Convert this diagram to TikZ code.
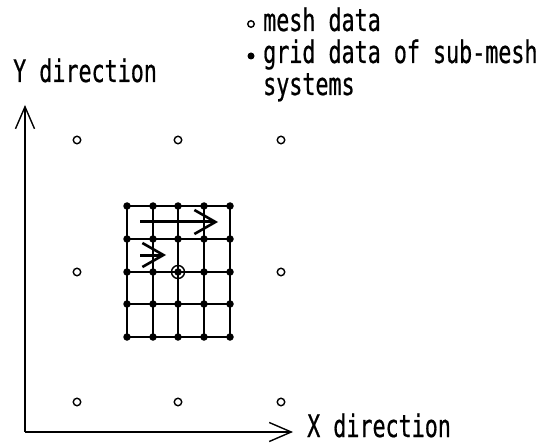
\documentclass[tikz,border=0pt]{standalone}
\usepackage{fontspec}
\setmainfont[FakeStretch=0.70,FakeBold=0.6]{DejaVu Sans Mono}
\usetikzlibrary{arrows.meta,positioning}

\begin{document}
\begin{tikzpicture}[x=1pt,y=-1pt,
  axis/.style={line width=1.6pt,-{Straight Barb[length=22pt,width=19pt,line width=1.4pt]}},
  flow/.style={line width=3pt,-{Straight Barb[length=21pt,width=24pt,line width=2.6pt]}},
  mesh/.style={circle,draw,line width=1.4pt,inner sep=0pt,minimum size=7.5pt},
  gpt/.style={circle,fill,inner sep=0pt,minimum size=7.5pt},
  gline/.style={line width=1.9pt},
  lbl/.style={inner sep=0pt,anchor=base west,font=\fontsize{31}{32}\selectfont}]
  \useasboundingbox (0,0) rectangle (548,446);

  % axes
  \coordinate (o) at (25,432);
  \coordinate (ytip) at (25,105);
  \coordinate (xtip) at (293,432);
  \draw[axis] (o) -- (ytip);
  \draw[axis] (o) -- (xtip);
  \node[lbl] (ylbl) at (13,82) {Y direction};
  \node[lbl] (xlbl) at (307,437) {X direction};

  % mesh data
  \foreach \c/\x in {1/77,2/178,3/281}
    \foreach \r/\y in {1/140,3/402}
      \node[mesh] (m\c\r) at (\x,\y) {};
  \node[mesh] (m12) at (77,272) {};
  \node[mesh] (m32) at (281,272) {};
  \node[mesh,minimum size=13pt] (m22) at (178,272) {};

  % sub-mesh grid
  \foreach \i/\x in {1/127,2/153,3/178,4/204,5/230}
    \foreach \j/\y in {1/206,2/239,3/272,4/304,5/337}
      \node[gpt] (g\i\j) at (\x,\y) {};
  \foreach \k in {1,...,5} {
    \draw[gline] (g\k1.center) -- (g\k5.center);
    \draw[gline] (g1\k.center) -- (g5\k.center);
  }
  \coordinate (f1) at (140,222);
  \coordinate (f2) at (218,222);
  \coordinate (f3) at (140,255);
  \coordinate (f4) at (166,255);
  \draw[flow] (f1) -- (f2);
  \draw[flow] (f3) -- (f4);

  % legend
  \node[mesh,minimum size=6.5pt] (kmesh) at (251,24) {};
  \node[gpt,minimum size=7pt] (kgrid) at (251,56) {};
  \node[lbl] (tmesh) at (263,31) {mesh data};
  \node[lbl] (tgrid) at (263,63) {grid data of sub-mesh};
  \node[lbl] (tsys) at (263,95) {systems};
\end{tikzpicture}
\end{document}
